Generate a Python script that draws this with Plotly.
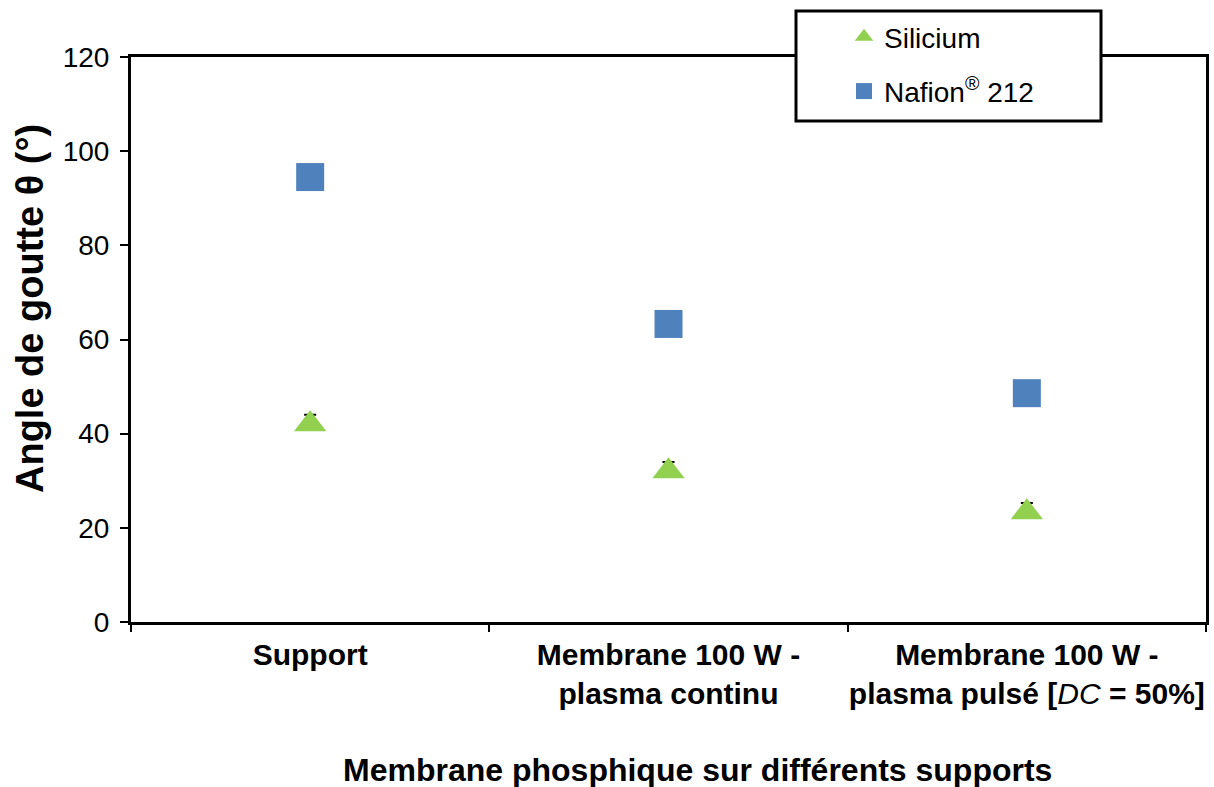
import plotly.graph_objects as go

# Contact angle of a water drop on the phosphonic membrane, per support type
categories = [
    "Support",
    "Membrane 100 W -<br>plasma continu",
    "Membrane 100 W -<br>plasma pulsé [<span style='font-weight:normal'><i>DC</i></span> = 50%]",
]
silicium_angle = [42.0, 32.0, 23.3]
silicium_err_up = [2.0, 2.0, 2.0]
silicium_err_down = [0.0, 0.0, 0.0]
nafion_angle = [94.5, 63.3, 48.6]

y_ticks = [0, 20, 40, 60, 80, 100, 120]

x_title = "Membrane phosphique sur différents supports"
y_title = "Angle de goutte θ (°)"

GREEN = "#92D050"
BLUE = "#4F81BD"
FONT = "Liberation Sans, Arial, sans-serif"

# plot-area geometry in pixels
L, R, T, B = 131, 1206, 57, 622
W, H = R - L, B - T

fig = go.Figure()

fig.add_trace(go.Scatter(
    x=categories, y=silicium_angle, mode="markers", name="Silicium",
    legendgroup="si",
    marker=dict(symbol="triangle-up", size=28, color=GREEN),
    error_y=dict(type="data", symmetric=False, array=silicium_err_up,
                 arrayminus=silicium_err_down, visible=True,
                 color="black", thickness=2, width=6),
))
fig.add_trace(go.Scatter(
    x=categories, y=nafion_angle, mode="markers", name="Nafion<sup>®</sup> 212",
    legendgroup="na",
    marker=dict(symbol="square", size=28, color=BLUE),
))

# framed legend panel
fig.add_shape(type="rect", xref="paper", yref="paper",
              x0=(796 - L) / W, x1=(1101 - L) / W,
              y0=(B - 121) / H, y1=(B - 11) / H,
              line=dict(color="black", width=3), fillcolor="white", layer="above")

# axis titles
fig.add_annotation(text=f"<b>{x_title}</b>", xref="paper", yref="paper",
                   x=(697 - L) / W, y=(B - 770) / H, showarrow=False,
                   xanchor="center", yanchor="middle", font=dict(size=32))
fig.add_annotation(text=f"<b>{y_title}</b>", xref="paper", yref="paper",
                   x=(30 - L) / W, y=(B - 309) / H, showarrow=False, textangle=-90,
                   xanchor="center", yanchor="middle", font=dict(size=38))

fig.update_layout(
    width=1214, height=787,
    margin=dict(l=L, r=1214 - R, t=T, b=787 - B, autoexpand=False),
    paper_bgcolor="white", plot_bgcolor="white",
    font=dict(family=FONT, size=28, color="black"),
    showlegend=True,
    legend=dict(x=(844 - L) / W, y=(B - 12) / H, xanchor="left", yanchor="top",
                bgcolor="rgba(0,0,0,0)", borderwidth=0,
                font=dict(size=28), tracegroupgap=15),
    xaxis=dict(
        type="category", range=[-0.5, 2.5], tickson="boundaries",
        ticks="outside", ticklen=7, tickwidth=2, tickcolor="black",
        showline=True, linewidth=3, linecolor="black", mirror=True,
        showgrid=False, zeroline=False, automargin=False, tickangle=0,
        tickfont=dict(size=30, weight="bold"), ticklabelstandoff=4,
    ),
    yaxis=dict(
        range=[0, 120], tickvals=y_ticks,
        ticks="outside", ticklen=8, tickwidth=2, tickcolor="black",
        showline=True, linewidth=3, linecolor="black", mirror=True,
        showgrid=False, zeroline=False, automargin=False,
        tickfont=dict(size=28), ticklabelstandoff=5,
    ),
)

fig.write_html("out.html")
